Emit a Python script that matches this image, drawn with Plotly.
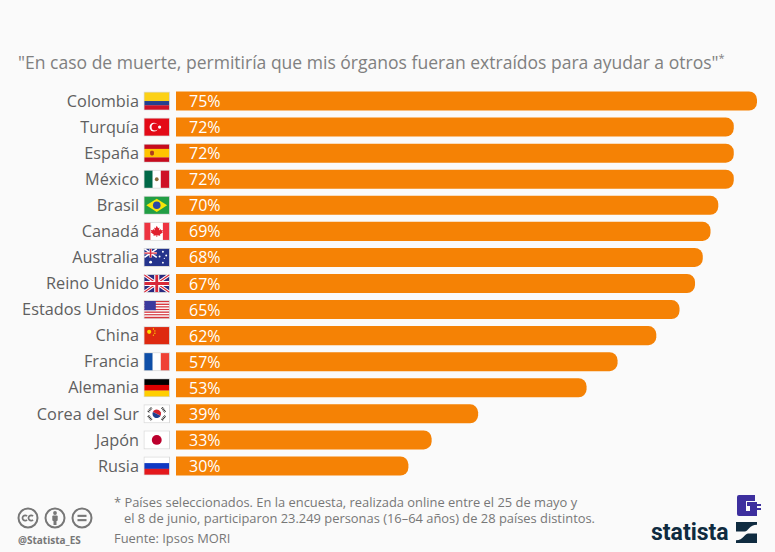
import base64
import plotly.graph_objects as go

countries = ["Colombia", "Turquía", "España", "México", "Brasil", "Canadá", "Australia", "Reino Unido",
             "Estados Unidos", "China", "Francia", "Alemania", "Corea del Sur", "Japón", "Rusia"]
values = [75, 72, 72, 72, 70, 69, 68, 67, 65, 62, 57, 53, 39, 33, 30]
title_text = '"En caso de muerte, permitiría que mis órganos fueran extraídos para ayudar a otros"<sup><span style="font-size:11px">*</span></sup>'
note_lines = ["* Países seleccionados. En la encuesta, realizada online entre el 25 de mayo y",
              "el 8 de junio, participaron 23.249 personas (16–64 años) de 28 países distintos."]
source_text = "Fuente: Ipsos MORI"
handle_text = "@Statista_ES"
brand_text = "statista"

W, H = 775, 552
L, R, T, B = 176, 757, 88, 479
BG = "#fafafa"
ORANGE = "#f58205"


def uri(body, w=26, h=18):
    svg = f'<svg xmlns="http://www.w3.org/2000/svg" viewBox="0 0 {w} {h}" width="{w*8}" height="{h*8}">{body}</svg>'
    return "data:image/svg+xml;base64," + base64.b64encode(svg.encode()).decode()


def hstripes(*cols):
    n = sum(c[1] for c in cols)
    y, out = 0, ""
    for col, share in cols:
        out += f'<rect x="0" y="{y*18/n}" width="26" height="{share*18/n+0.1}" fill="{col}"/>'
        y += share
    return out


def vstripes(*cols):
    x, out = 0, ""
    for col, wid in cols:
        out += f'<rect x="{x}" y="0" width="{wid}" height="18" fill="{col}"/>'
        x += wid
    return out


us = hstripes(*[(("#d8343c" if i % 2 == 0 else "#fff"), 1) for i in range(13)]) + '<rect width="12" height="9.7" fill="#3b3b9e"/>'
uj = ('<rect width="26" height="18" fill="#2a2a80"/>'
      '<path d="M0 0L26 18M26 0L0 18" stroke="#fff" stroke-width="3.4"/>'
      '<path d="M0 0L26 18M26 0L0 18" stroke="#d8283a" stroke-width="1.2"/>'
      '<path d="M13 0V18M0 9H26" stroke="#fff" stroke-width="5.4"/>'
      '<path d="M13 0V18M0 9H26" stroke="#d8283a" stroke-width="3"/>')
au = ('<rect width="26" height="18" fill="#24338c"/>'
      '<g transform="scale(.5)"><path d="M0 0L26 18M26 0L0 18" stroke="#fff" stroke-width="3.4"/>'
      '<path d="M13 0V18M0 9H26" stroke="#fff" stroke-width="5"/><path d="M13 0V18M0 9H26" stroke="#d8283a" stroke-width="3"/></g>'
      '<g fill="#fff"><circle cx="6.5" cy="14" r="1.5"/><circle cx="19.5" cy="3" r="1"/><circle cx="19.5" cy="14.5" r="1"/>'
      '<circle cx="16" cy="8" r="1"/><circle cx="23" cy="7" r="1"/><circle cx="21" cy="10" r=".6"/></g>')
kr = ('<rect width="26" height="18" fill="#fff"/>'
      '<path d="M8.5 9a4.5 4.5 0 0 1 9 0z" fill="#d0202e" transform="rotate(25 13 9)"/>'
      '<path d="M8.5 9a4.5 4.5 0 0 0 9 0z" fill="#1f3f8f" transform="rotate(25 13 9)"/>'
      '<g stroke="#222" stroke-width="2.4" stroke-dasharray="1 .7"><path d="M4 7L7.5 2.5"/><path d="M18.5 15.5L22 11"/>'
      '<path d="M4 11L7.5 15.5"/><path d="M18.5 2.5L22 7"/></g>')
cn = ('<rect width="26" height="18" fill="#de2910"/>'
      '<g fill="#ffde00"><circle cx="5" cy="5" r="2.2"/><circle cx="9.5" cy="2" r=".7"/><circle cx="11" cy="4" r=".7"/>'
      '<circle cx="11" cy="6.5" r=".7"/><circle cx="9.5" cy="8.5" r=".7"/></g>')
ca = (vstripes(("#ee3340", 6.5), ("#fff", 13), ("#ee3340", 6.5)) +
      '<path d="M13 3l1.5 2.6 1.4-.7-.6 3.2 1.7-1.5.5 1.2 2-.3-.7 2 .8.5-3.2 2.4.3 1.2-3.2-.4V15h-.8v-1.8l-3.2.4.3-1.2-3.2-2.4.8-.5-.7-2 2 .3.5-1.2 1.7 1.5-.6-3.2 1.4.7z" fill="#e0202e"/>')
flags = {
    "Colombia": hstripes(("#fcd116", 2), ("#24408e", 1), ("#ce1126", 1)),
    "Turquía": '<rect width="26" height="18" fill="#e30a17"/><circle cx="10" cy="9" r="4.6" fill="#fff"/><circle cx="11.2" cy="9" r="3.7" fill="#e30a17"/><circle cx="16" cy="9" r="1.7" fill="#fff"/>',
    "España": hstripes(("#c60b1e", 1), ("#ffc400", 2), ("#c60b1e", 1)) + '<rect x="6" y="6.5" width="4" height="5" rx="1.5" fill="#ad3a1e"/>',
    "México": vstripes(("#006847", 8.7), ("#fff", 8.6), ("#ce1126", 8.7)) + '<circle cx="13" cy="9" r="2" fill="#8a6a3a"/>',
    "Brasil": '<rect width="26" height="18" fill="#229e45"/><path d="M13 2L24 9L13 16L2 9z" fill="#f8e509"/><circle cx="13" cy="9" r="4" fill="#2b49a3"/>',
    "Canadá": ca,
    "Australia": au,
    "Reino Unido": uj,
    "Estados Unidos": us,
    "China": cn,
    "Francia": vstripes(("#0f4fa8", 8.7), ("#fff", 8.6), ("#ef4135", 8.7)),
    "Alemania": hstripes(("#000", 1), ("#dd0000", 1), ("#ffce00", 1)),
    "Corea del Sur": kr,
    "Japón": '<rect width="26" height="18" fill="#fff"/><circle cx="13" cy="9" r="5.2" fill="#bc002d"/>',
    "Rusia": hstripes(("#fff", 1), ("#0f39c4", 1), ("#e4181c", 1)),
}

fig = go.Figure(go.Bar(
    x=values, y=countries, orientation="h", marker=dict(color=ORANGE, line_width=0),
    hoverinfo="skip",
))

px = lambda v: (v - L) / (R - L)
py = lambda v: (B - v) / (B - T)

images = []
step = (B - T) / len(countries)
for i, c in enumerate(countries):
    cy = T + step * (i + 0.5)
    outlined = (f'<rect x="-1" y="-1" width="28" height="20" fill="#d9d9d9"/>{flags[c]}')
    svg = f'<svg xmlns="http://www.w3.org/2000/svg" viewBox="-1 -1 28 20" width="224" height="160">{outlined}</svg>'
    images.append(dict(source="data:image/svg+xml;base64," + base64.b64encode(svg.encode()).decode(),
                       xref="paper", yref="paper", x=px(143.5), y=py(cy), sizex=26.5 / (R - L), sizey=19 / (B - T),
                       xanchor="left", yanchor="middle", sizing="stretch", layer="above"))

cc = ('<g fill="none" stroke="#777" stroke-width="2"><circle cx="11" cy="11" r="9.5"/></g>'
      '<path d="M10 9.2a2.6 2.6 0 1 0 0 3.6M16 9.2a2.6 2.6 0 1 0 0 3.6" fill="none" stroke="#777" stroke-width="1.8"/>')
by = ('<circle cx="11" cy="11" r="9.5" fill="none" stroke="#777" stroke-width="2"/>'
      '<circle cx="11" cy="6" r="1.9" fill="#777"/><rect x="8.3" y="8.5" width="5.4" height="5.5" rx="1" fill="#777"/><rect x="9.5" y="13" width="3" height="5" fill="#777"/>')
eq = ('<circle cx="11" cy="11" r="9.5" fill="none" stroke="#777" stroke-width="2"/>'
      '<rect x="6.5" y="7.8" width="9" height="2.1" fill="#777"/><rect x="6.5" y="12.1" width="9" height="2.1" fill="#777"/>')
for src, xpos in ((cc, 17), (by, 44), (eq, 71)):
    images.append(dict(source=uri(src, 22, 22), xref="paper", yref="paper", x=px(xpos), y=py(507),
                       sizex=22 / (R - L), sizey=22 / (B - T), xanchor="left", yanchor="top", sizing="stretch"))
wave = ('<path d="M0 0H22V3C14 3 13 10 9 10H0z" fill="#0f2b40"/>'
        '<path d="M22 22H0V19C8 19 9 12 13 12H22z" fill="#0f2b40"/>')
images.append(dict(source=uri(wave, 22, 22), xref="paper", yref="paper", x=px(736), y=py(522),
                   sizex=21 / (R - L), sizey=21 / (B - T), xanchor="left", yanchor="top", sizing="stretch"))
plug = ('<path d="M0 2Q0 0 2 0H18V6H9V16H13V11H10V7H20V9H24V11H20V13H24V15H20V21H2Q0 21 0 19z" fill="#3d2f9e"/>')
images.append(dict(source=uri(plug, 24, 22), xref="paper", yref="paper", x=px(737), y=py(495),
                   sizex=24 / (R - L), sizey=22 / (B - T), xanchor="left", yanchor="top", sizing="stretch"))

annotations = []
for c, v in zip(countries, values):
    annotations.append(dict(x=0, y=c, xref="x", yref="y", text=f"{v}%", showarrow=False, xanchor="left", xshift=11,
                            font=dict(family="Open Sans", size=16, color="#ffffff")))


def note(text, x, y, size, color, anchor="left", family="Open Sans", **kw):
    annotations.append(dict(text=text, xref="paper", yref="paper", x=px(x), y=py(y), showarrow=False,
                            xanchor=anchor, yanchor="middle", font=dict(family=family, size=size, color=color), **kw))


note(title_text, 16, 62, 17.55, "#808080")
note(note_lines[0], 112, 502, 12.9, "#777777")
note(note_lines[1], 122, 518, 12.9, "#777777")
note(source_text, 112, 538, 12.9, "#777777")
note(f"<b>{handle_text}</b>", 16, 540, 10, "#777777")
note(f"<b>{brand_text}</b>", 731, 532, 23, "#0f2b40", anchor="right", family="Roboto")

fig.update_layout(
    width=W, height=H, autosize=False,
    margin=dict(l=L, r=W - R, t=T, b=H - B, pad=0),
    paper_bgcolor=BG, plot_bgcolor=BG,
    showlegend=False, bargap=0.27, barcornerradius=8,
    xaxis=dict(range=[0, 75], visible=False, fixedrange=True),
    yaxis=dict(autorange="reversed", showline=False, showgrid=False, zeroline=False, ticks="",
               ticklabelstandoff=36, tickfont=dict(family="Open Sans", size=16.3, color="#5f5f5f"), fixedrange=True),
    images=images, annotations=annotations,
)
fig.write_html("out.html", config=dict(displayModeBar=False),
               post_script="document.body.style.margin='0';document.body.style.background='#fafafa';document.documentElement.style.overflow='hidden';")
